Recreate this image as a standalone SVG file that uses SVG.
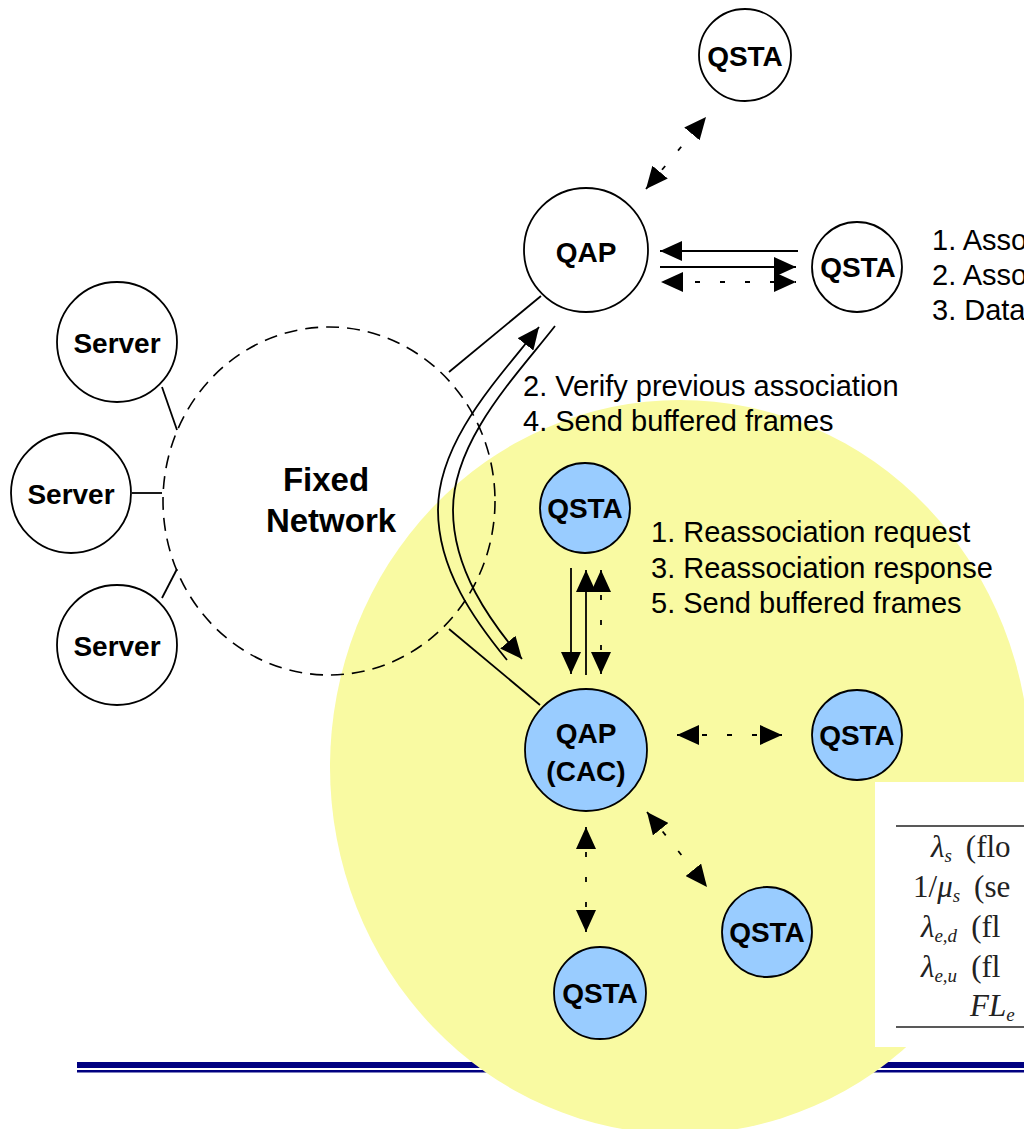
<svg xmlns="http://www.w3.org/2000/svg" width="1024" height="1129" viewBox="0 0 1024 1129">
<defs>
<style>
.node{stroke:#000;stroke-width:1.8}
.w{fill:#fff}
.b{fill:#99CCFF}
.lbl{font-family:"Liberation Sans",Arial,sans-serif;font-weight:bold;font-size:28px;text-anchor:middle;fill:#000}
.txt{font-family:"Liberation Sans",Arial,sans-serif;font-size:29px;fill:#000}
.ln{stroke:#000;stroke-width:1.8;fill:none}
.dot{stroke:#000;stroke-width:1.8;fill:none;stroke-dasharray:5 20}
.math{font-family:"Liberation Serif","DejaVu Serif",serif;font-size:31px;fill:#222}
.sub{font-size:19px;font-style:italic}
.it{font-style:italic}
</style>
<marker id="ah" viewBox="0 0 22 20" refX="22" refY="10" markerWidth="22" markerHeight="20" markerUnits="userSpaceOnUse" orient="auto-start-reverse">
<path d="M0,0 L22,10 L0,20 z" fill="#000"/>
</marker>
</defs>
<rect width="1024" height="1129" fill="#fff"/>
<g id="footer-rule">
<rect x="77" y="1062" width="947" height="6" fill="#000080"/>
<rect x="77" y="1070" width="947" height="2.5" fill="#000080"/>
</g>
<ellipse id="cell" cx="680" cy="767" rx="350" ry="367" fill="#F9FAA2"/>
<g id="table">
<rect x="875" y="782" width="149" height="265" fill="#fff"/>
<line x1="896" y1="826" x2="1024" y2="826" stroke="#222" stroke-width="1.6"/>
<line x1="896" y1="1027" x2="1024" y2="1027" stroke="#222" stroke-width="1.6"/>
<text class="math" x="931" y="857"><tspan class="it">λ</tspan><tspan class="sub" dy="5">s</tspan><tspan dy="-5" dx="14">(flo</tspan></text>
<text class="math" x="913" y="897">1/<tspan class="it">μ</tspan><tspan class="sub" dy="5">s</tspan><tspan dy="-5" dx="14">(se</tspan></text>
<text class="math" x="921" y="937"><tspan class="it">λ</tspan><tspan class="sub" dy="5">e,d</tspan><tspan dy="-5" dx="14">(fl</tspan></text>
<text class="math" x="921" y="977"><tspan class="it">λ</tspan><tspan class="sub" dy="5">e,u</tspan><tspan dy="-5" dx="14">(fl</tspan></text>
<text class="math" x="970" y="1016"><tspan class="it">FL</tspan><tspan class="sub" dy="5">e</tspan></text>
</g>
<g id="fixed-network">
<ellipse cx="329" cy="501" rx="166" ry="174" fill="none" stroke="#000" stroke-width="1.6" stroke-dasharray="13 8"/>
<text class="lbl" x="326" y="491" style="font-size:33px">Fixed</text>
<text class="lbl" x="331" y="532" style="font-size:33px">Network</text>
</g>
<g id="connectors">
<line class="ln" x1="162" y1="387" x2="177" y2="430"/>
<line class="ln" x1="132" y1="493" x2="162" y2="493"/>
<line class="ln" x1="162" y1="598" x2="177" y2="569"/>
<line class="ln" x1="449" y1="372" x2="541" y2="296"/>
<line class="ln" x1="449" y1="629" x2="540" y2="705"/>
<path class="ln" d="M507,660 C475,621 438,570 438,510 C438,440 500,377 539,327" marker-end="url(#ah)"/>
<path class="ln" d="M555,326 C516,376 453,440 453,510 C453,570 490,621 522,659" marker-end="url(#ah)"/>
<line class="dot" x1="646" y1="189" x2="706" y2="117" marker-start="url(#ah)" marker-end="url(#ah)"/>
<line class="ln" x1="798" y1="251" x2="660" y2="251" marker-end="url(#ah)"/>
<line class="ln" x1="660" y1="267" x2="796" y2="267" marker-end="url(#ah)"/>
<line class="dot" x1="661" y1="282" x2="796" y2="282" stroke-dashoffset="16" marker-start="url(#ah)" marker-end="url(#ah)"/>
<line class="ln" x1="571" y1="568" x2="571" y2="674" marker-end="url(#ah)"/>
<line class="ln" x1="586" y1="675" x2="586" y2="570" marker-end="url(#ah)"/>
<line class="dot" x1="601" y1="570" x2="601" y2="674" marker-start="url(#ah)" marker-end="url(#ah)"/>
<line class="dot" x1="677" y1="735" x2="782" y2="735" marker-start="url(#ah)" marker-end="url(#ah)"/>
<line class="dot" x1="647" y1="812" x2="707" y2="887" marker-start="url(#ah)" marker-end="url(#ah)"/>
<line class="dot" x1="586" y1="827" x2="586" y2="932" marker-start="url(#ah)" marker-end="url(#ah)"/>
</g>
<g id="server1"><circle class="node w" cx="117" cy="342" r="60"/><text class="lbl" x="117" y="353">Server</text></g>
<g id="server2"><circle class="node w" cx="71" cy="493" r="60"/><text class="lbl" x="71" y="504">Server</text></g>
<g id="server3"><circle class="node w" cx="117" cy="645" r="60"/><text class="lbl" x="117" y="656">Server</text></g>
<g id="qsta-top"><circle class="node w" cx="745" cy="55" r="46"/><text class="lbl" x="745" y="66">QSTA</text></g>
<g id="qap-old"><circle class="node w" cx="586" cy="250" r="62"/><text class="lbl" x="586" y="262">QAP</text></g>
<g id="qsta-right-top"><circle class="node w" cx="857" cy="267" r="45"/><text class="lbl" x="858" y="277">QSTA</text></g>
<g id="qsta-roaming"><circle class="node b" cx="585" cy="508" r="45"/><text class="lbl" x="585" y="518">QSTA</text></g>
<g id="qap-cac"><circle class="node b" cx="586" cy="750" r="61"/><text class="lbl" x="586" y="743">QAP</text><text class="lbl" x="586" y="781">(CAC)</text></g>
<g id="qsta-right"><circle class="node b" cx="857" cy="735" r="45"/><text class="lbl" x="857" y="745">QSTA</text></g>
<g id="qsta-br"><circle class="node b" cx="767" cy="932" r="45"/><text class="lbl" x="767" y="942">QSTA</text></g>
<g id="qsta-bottom"><circle class="node b" cx="600" cy="993" r="46"/><text class="lbl" x="600" y="1003">QSTA</text></g>
<g id="labels">
<text class="txt" x="523" y="396">2. Verify previous association</text>
<text class="txt" x="523" y="431">4. Send buffered frames</text>
<text class="txt" x="651" y="542">1. Reassociation request</text>
<text class="txt" x="651" y="578">3. Reassociation response</text>
<text class="txt" x="651" y="613">5. Send buffered frames</text>
<text class="txt" x="932" y="250">1. Asso</text>
<text class="txt" x="932" y="285">2. Asso</text>
<text class="txt" x="932" y="320">3. Data</text>
</g>
</svg>
